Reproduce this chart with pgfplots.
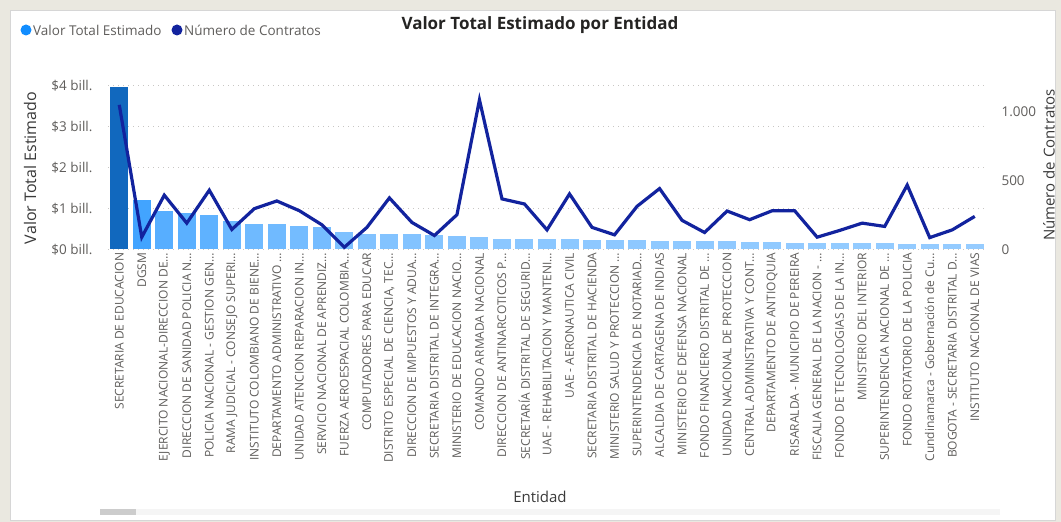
\documentclass[border=0pt]{standalone}
\usepackage{pgfplots}
\pgfplotsset{compat=1.18}
\usepackage{pgfplotstable}
\usepackage{fontspec}
\setmainfont{Open Sans}
\definecolor{titlec}{HTML}{252423}
\definecolor{tickc}{HTML}{605E5C}
\definecolor{labc}{HTML}{3A3A3A}
\definecolor{bardark}{HTML}{1168BE}
\definecolor{barmid}{HTML}{42A4FF}
\definecolor{barlight}{HTML}{96CCFF}
\definecolor{linec}{HTML}{12239E}
\definecolor{leg1}{HTML}{118DFF}
\definecolor{gridc}{HTML}{C8C6C4}
\definecolor{bgc}{HTML}{EAE8E0}
\definecolor{framec}{HTML}{D6D6D6}

\pgfplotstableread{
x n
0 1049
1 88
2 393
3 190
4 429
5 144
6 295
7 351
8 280
9 178
10 15
11 159
12 373
13 195
14 100
15 251
16 1085
17 366
18 329
19 141
20 402
21 159
22 105
23 312
24 441
25 210
26 122
27 278
28 215
29 280
30 280
31 88
32 137
33 190
34 166
35 466
36 85
37 141
38 239
}\contratos

\pgfplotsset{mybar/.style={ybar, bar width=18bp, bar shift=0pt, draw=none, fill=#1}}
\newcommand{\dd}{\ldots}

\begin{document}
\begin{tikzpicture}
\fill[bgc] (0bp,0bp) rectangle (1061bp,522bp);
\path[use as bounding box] (0bp,0bp) rectangle (1061bp,522bp);
\filldraw[fill=white, draw=framec] (10bp,2bp) rectangle (1055bp,512bp);
% scrollbar
\fill[gray!8] (100bp,7bp) rectangle (1000bp,13bp);
\fill[gray!40] (100bp,7bp) rectangle (136bp,13bp);

\begin{axis}[
  at={(108bp,272.7bp)}, anchor=south west, scale only axis,
  width=878bp, height=163.6bp,
  xmin=-0.5, xmax=38.5, ymin=0, ymax=4,
  axis line style={draw=none},
  major tick length=0pt,
  ytick={0,1,2,3,4},
  yticklabels={\$0 bill.,\$1 bill.,\$2 bill.,\$3 bill.,\$4 bill.},
  yticklabel style={font=\fontsize{13.5bp}{16bp}\selectfont, text=tickc, xshift=-12bp},
  ymajorgrids, grid style={gridc, line width=1bp, dash pattern=on 1bp off 4bp},
  xtick={0,1,2,3,4,5,6,7,8,9,10,11,12,13,14,15,16,17,18,19,20,21,22,23,24,25,26,27,28,29,30,31,32,33,34,35,36,37,38},
  xticklabels={
    {SECRETARIA DE EDUCACION},
    {DGSM},
    {EJERCITO NACIONAL-DIRECCION DE\dd},
    {DIRECCION DE SANIDAD POLICIA N\dd},
    {POLICIA NACIONAL - GESTION GEN\dd},
    {RAMA JUDICIAL - CONSEJO SUPERI\dd},
    {INSTITUTO COLOMBIANO DE BIENE\dd},
    {DEPARTAMENTO ADMINISTRATIVO \dd},
    {UNIDAD ATENCION REPARACION IN\dd},
    {SERVICIO NACIONAL DE APRENDIZ\dd},
    {FUERZA AEROESPACIAL COLOMBIA\dd},
    {COMPUTADORES PARA EDUCAR},
    {DISTRITO ESPECIAL DE CIENCIA, TEC\dd},
    {DIRECCION DE IMPUESTOS Y ADUA\dd},
    {SECRETARIA DISTRITAL DE INTEGRA\dd},
    {MINISTERIO DE EDUCACION NACIO\dd},
    {COMANDO ARMADA NACIONAL},
    {DIRECCION DE ANTINARCOTICOS P\dd},
    {SECRETARÍA DISTRITAL DE SEGURID\dd},
    {UAE - REHABILITACION Y MANTENI\dd},
    {UAE - AERONAUTICA CIVIL},
    {SECRETARIA DISTRITAL DE HACIENDA},
    {MINISTERIO SALUD Y PROTECCION \dd},
    {SUPERINTENDENCIA DE NOTARIAD\dd},
    {ALCALDIA DE CARTAGENA DE INDIAS},
    {MINISTERIO DE DEFENSA NACIONAL},
    {FONDO FINANCIERO DISTRITAL DE \dd},
    {UNIDAD NACIONAL DE PROTECCION},
    {CENTRAL ADMINISTRATIVA Y CONT\dd},
    {DEPARTAMENTO DE ANTIOQUIA},
    {RISARALDA - MUNICIPIO DE PEREIRA},
    {FISCALIA GENERAL DE LA NACION - \dd},
    {FONDO DE TECNOLOGIAS DE LA IN\dd},
    {MINISTERIO DEL INTERIOR},
    {SUPERINTENDENCIA NACIONAL DE \dd},
    {FONDO ROTATORIO DE LA POLICIA},
    {Cundinamarca - Gobernación de Cu\dd},
    {BOGOTA - SECRETARIA DISTRITAL D\dd},
    {INSTITUTO NACIONAL DE VIAS}},
  xticklabel style={rotate=90, anchor=east, font=\fontsize{12bp}{14bp}\selectfont, text=tickc},
  clip=false,
]
\addplot[mybar=bardark] coordinates {(0,3.98)};
\addplot[mybar=barmid!100!barlight] coordinates {(1,1.21)};
\addplot[mybar=barmid!75!barlight] coordinates {(2,0.94)};
\addplot[mybar=barmid!70!barlight] coordinates {(3,0.88)};
\addplot[mybar=barmid!66!barlight] coordinates {(4,0.84)};
\addplot[mybar=barmid!51!barlight] coordinates {(5,0.68)};
\addplot[mybar=barmid!46!barlight] coordinates {(6,0.62)};
\addplot[mybar=barmid!45!barlight] coordinates {(7,0.61)};
\addplot[mybar=barmid!40!barlight] coordinates {(8,0.56)};
\addplot[mybar=barmid!39!barlight] coordinates {(9,0.55)};
\addplot[mybar=barmid!28!barlight] coordinates {(10,0.42)};
\addplot[mybar=barmid!24!barlight] coordinates {(11,0.38)};
\addplot[mybar=barmid!23!barlight] coordinates {(12,0.37)};
\addplot[mybar=barmid!23!barlight] coordinates {(13,0.37)};
\addplot[mybar=barmid!21!barlight] coordinates {(14,0.35)};
\addplot[mybar=barmid!19!barlight] coordinates {(15,0.33)};
\addplot[mybar=barmid!16!barlight] coordinates {(16,0.29)};
\addplot[mybar=barmid!13!barlight] coordinates {(17,0.26)};
\addplot[mybar=barmid!13!barlight] coordinates {(18,0.26)};
\addplot[mybar=barmid!13!barlight] coordinates {(19,0.26)};
\addplot[mybar=barmid!11!barlight] coordinates {(20,0.24)};
\addplot[mybar=barmid!10!barlight] coordinates {(21,0.23)};
\addplot[mybar=barmid!10!barlight] coordinates {(22,0.23)};
\addplot[mybar=barmid!9!barlight] coordinates {(23,0.22)};
\addplot[mybar=barmid!8!barlight] coordinates {(24,0.21)};
\addplot[mybar=barmid!8!barlight] coordinates {(25,0.21)};
\addplot[mybar=barmid!8!barlight] coordinates {(26,0.21)};
\addplot[mybar=barmid!7!barlight] coordinates {(27,0.20)};
\addplot[mybar=barmid!6!barlight] coordinates {(28,0.19)};
\addplot[mybar=barmid!6!barlight] coordinates {(29,0.18)};
\addplot[mybar=barmid!4!barlight] coordinates {(30,0.16)};
\addplot[mybar=barmid!3!barlight] coordinates {(31,0.155)};
\addplot[mybar=barmid!3!barlight] coordinates {(32,0.15)};
\addplot[mybar=barmid!3!barlight] coordinates {(33,0.15)};
\addplot[mybar=barmid!3!barlight] coordinates {(34,0.15)};
\addplot[mybar=barmid!2!barlight] coordinates {(35,0.14)};
\addplot[mybar=barmid!2!barlight] coordinates {(36,0.14)};
\addplot[mybar=barmid!2!barlight] coordinates {(37,0.14)};
\addplot[mybar=barmid!0!barlight] coordinates {(38,0.12)};
\end{axis}

\begin{axis}[
  at={(108bp,272.7bp)}, anchor=south west, scale only axis,
  width=878bp, height=163.6bp,
  xmin=-0.5, xmax=38.5, ymin=0, ymax=1188,
  axis y line*=right, axis x line=none,
  axis line style={draw=none},
  major tick length=0pt,
  ytick={0,500,1000}, yticklabels={0,500,1.000},
  yticklabel style={font=\fontsize{13.5bp}{16bp}\selectfont, text=tickc, xshift=12bp},
  clip=false,
]
\addplot[linec, line width=3.2bp, mark=none] table[x=x, y=n] {\contratos};
\end{axis}

% title, legend, axis titles
\node[font=\bfseries\fontsize{17bp}{20bp}\selectfont, text=titlec] at (540bp,497bp) {Valor Total Estimado por Entidad};
\fill[leg1] (26bp,492bp) circle (5.5bp);
\node[anchor=west, inner sep=0pt, font=\fontsize{13.5bp}{16bp}\selectfont, text=tickc] at (33bp,492bp) {Valor Total Estimado};
\fill[linec] (177bp,492bp) circle (5.5bp);
\node[anchor=west, inner sep=0pt, font=\fontsize{13.5bp}{16bp}\selectfont, text=tickc] at (184bp,492bp) {Número de Contratos};
\node[rotate=90, font=\fontsize{16bp}{19bp}\selectfont, text=labc] at (30bp,354bp) {Valor Total Estimado};
\node[rotate=90, font=\fontsize{15bp}{18bp}\selectfont, text=labc] at (1049bp,357bp) {Número de Contratos};
\node[font=\fontsize{15bp}{18bp}\selectfont, text=labc] at (540bp,25bp) {Entidad};
\end{tikzpicture}
\end{document}
